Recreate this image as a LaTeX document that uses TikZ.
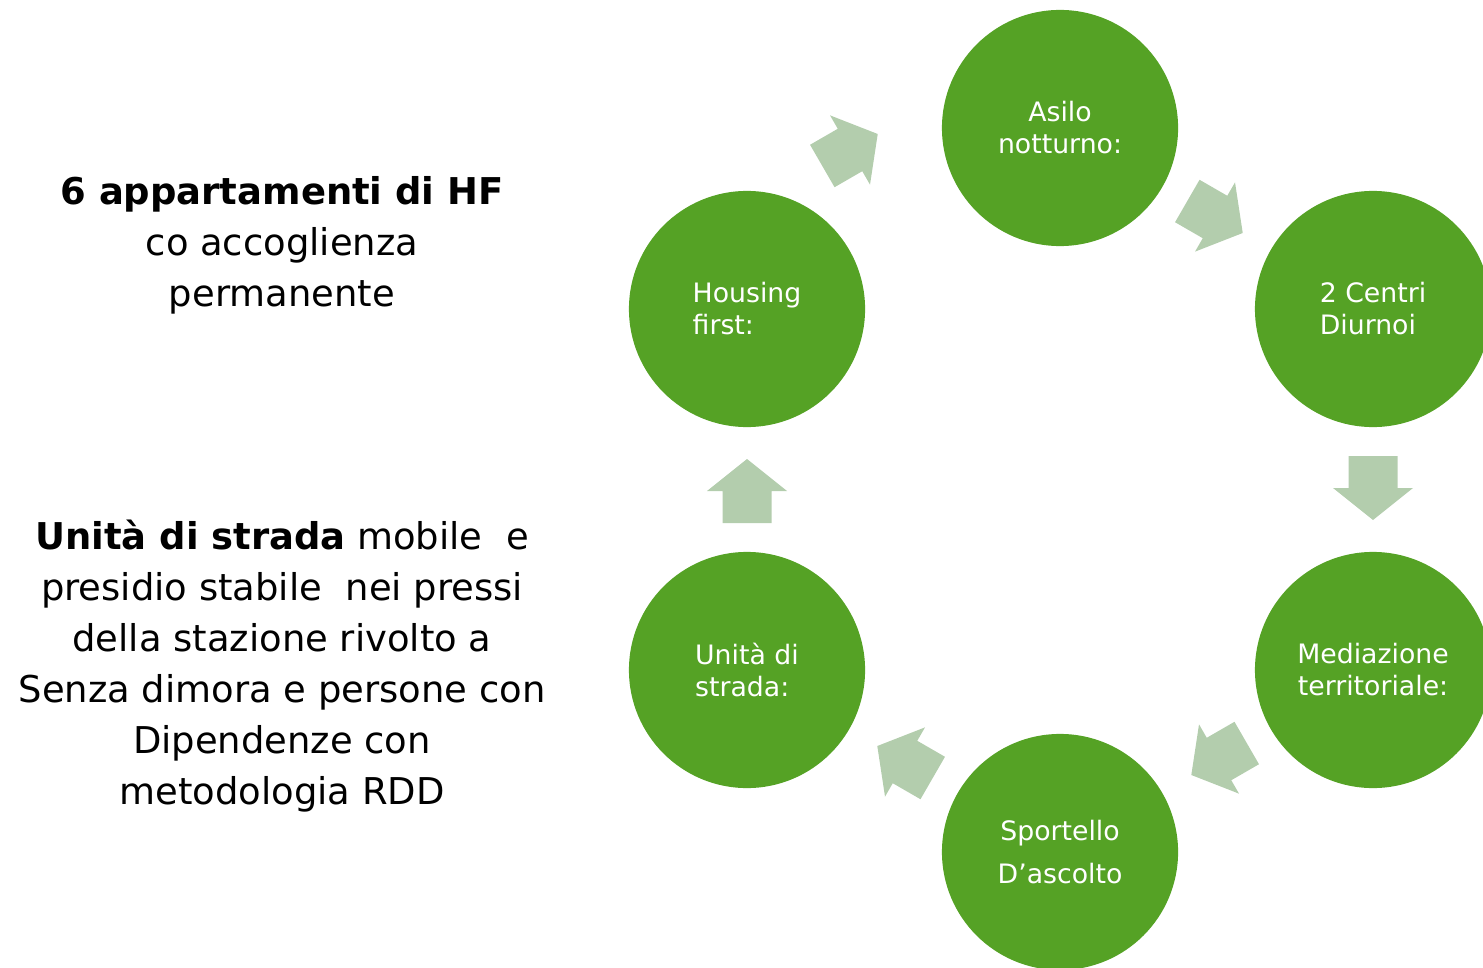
\documentclass[tikz,border=0pt]{standalone}
\usepackage{fontspec}
\setmainfont{DejaVu Sans}
\definecolor{cyclegreen}{RGB}{85,162,37}
\definecolor{arrowgreen}{RGB}{179,205,173}
\newcommand{\cyclearrow}[3]{%
  \fill[arrowgreen,shift={(#1,#2)},rotate=#3]
    (-32,-24.5) -- (0,-24.5) -- (0,-40) -- (32,0) -- (0,40) -- (0,24.5) -- (-32,24.5) -- cycle;}
\begin{document}
\begin{tikzpicture}[x=0.01cm,y=-0.01cm]\tikzstyle{every node} = [align=center]
    \tikzstyle{stage} = [circle,fill=cyclegreen,minimum size=2.36cm,inner sep=0pt,
      text=white,font=\fontsize{7.6}{9.1}\selectfont]
    \useasboundingbox (0,0) rectangle (1483,967);

    \node[font=\fontsize{10.5}{14.5}\selectfont] (hf) at (282,245)
      {\textbf{6 appartamenti di HF}\\ co accoglienza\\ permanente};
    \node[font=\fontsize{10.5}{14.5}\selectfont] (uds) at (282,666)
      {\textbf{Unità di strada} mobile\ \ e\\ presidio stabile\ \ nei pressi\\ della stazione rivolto a\\
       Senza dimora e persone con\\ Dipendenze con\\ metodologia RDD};

    \node[stage] (asilo) at (1060,128) {Asilo\\ notturno:};
    \node[stage,align=left] (centri) at (1373,309) {2 Centri\\ Diurnoi};
    \node[stage] (mediazione) at (1373,670) {Mediazione\\ territoriale:};
    \node[stage,font=\fontsize{7.6}{12}\selectfont] (sportello) at (1060,852) {Sportello\\ D’ascolto};
    \node[stage,align=left] (unita) at (747,670) {Unità di\\ strada:};
    \node[stage,align=left] (housing) at (747,309) {Housing\\ first:};

    \cyclearrow{850}{150}{30}
    \cyclearrow{1215}{217}{-30}
    \cyclearrow{1373}{488}{-90}
    \cyclearrow{1219}{759}{210}
    \cyclearrow{905}{762}{150}
    \cyclearrow{747}{491}{90}
  \end{tikzpicture}
\end{document}
